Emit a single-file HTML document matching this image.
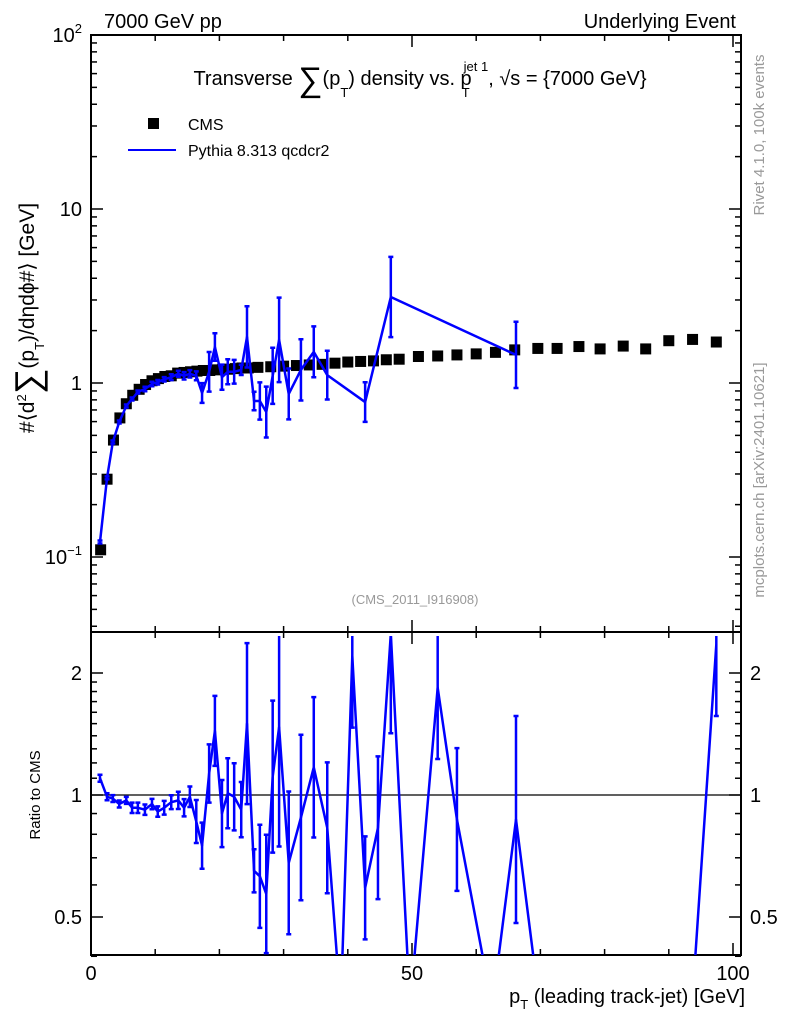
<!DOCTYPE html>
<html><head><meta charset="utf-8"><style>
html,body{margin:0;padding:0;background:#fff;overflow:hidden}
svg{font-family:"Liberation Sans",sans-serif;display:block}
</style></head><body>
<svg id="c" width="786" height="1024" viewBox="0 0 786 1024">
<defs>
<clipPath id="mclip"><rect x="91" y="35" width="650" height="597"/></clipPath>
<clipPath id="rclip"><rect x="91" y="636" width="650" height="319"/></clipPath>
</defs>
<g id="axes"></g>
<g id="mainMarks" clip-path="url(#mclip)"></g>
<g id="ratioMarks" clip-path="url(#rclip)"></g>
<text x="104" y="28" font-size="20">7000 GeV pp</text>
<text x="736" y="28" font-size="20" text-anchor="end">Underlying Event</text>
<text x="420" y="85" font-size="20" text-anchor="middle">Transverse <tspan font-size="34" dy="6">∑</tspan><tspan dy="-6">(p</tspan><tspan font-size="13" dy="12">T</tspan><tspan dy="-12">) density vs. p</tspan><tspan font-size="13" dy="12" dx="-10">T</tspan><tspan font-size="13" dy="-26" dx="-6">jet 1</tspan><tspan dy="14">, √s = {7000 GeV}</tspan></text>
<rect x="148" y="118" width="11" height="11" fill="#000"/>
<text x="188" y="130" font-size="16">CMS</text>
<line x1="128" y1="150" x2="176" y2="150" stroke="#0000ff" stroke-width="2"/>
<text x="188" y="156" font-size="16">Pythia 8.313 qcdcr2</text>
<text x="415" y="604" font-size="13" fill="#999" text-anchor="middle">(CMS_2011_I916908)</text>
<text transform="translate(34,318) rotate(-90)" font-size="21" text-anchor="middle">#⟨d<tspan font-size="13" dy="-8">2</tspan><tspan font-size="36" dy="14">∑</tspan><tspan dy="-6">(p</tspan><tspan font-size="13" dy="10">T</tspan><tspan dy="-10">)/dηdϕ#⟩ [GeV]</tspan></text>
<text transform="translate(40,795) rotate(-90)" font-size="15" text-anchor="middle">Ratio to CMS</text>
<text x="745" y="1003" font-size="20" text-anchor="end">p<tspan font-size="13" dy="6">T</tspan><tspan dy="-6"> (leading track-jet) [GeV]</tspan></text>
<text transform="translate(764,135) rotate(-90)" font-size="15" fill="#999" text-anchor="middle">Rivet 4.1.0,  100k events</text>
<text transform="translate(764,480) rotate(-90)" font-size="15" fill="#999" text-anchor="middle">mcplots.cern.ch [arXiv:2401.10621]</text>
</svg>
<script>
const cmsX=[1.5,2.5,3.5,4.5,5.5,6.5,7.5,8.5,9.5,10.5,11.5,12.5,13.5,14.5,15.5,16.5,17.5,18.5,19.5,20.5,21.5,22.5,23.5,24.5,26,28,30,32,34,36,38,40,42,44,46,48,51,54,57,60,63,66,69.6,72.6,76,79.3,82.9,86.4,90,93.7,97.4];
const cmsY=[0.11,0.28,0.47,0.63,0.76,0.85,0.92,0.98,1.03,1.06,1.09,1.1,1.14,1.15,1.16,1.17,1.18,1.18,1.19,1.2,1.2,1.21,1.22,1.22,1.23,1.24,1.25,1.26,1.27,1.28,1.3,1.32,1.33,1.34,1.36,1.37,1.42,1.43,1.45,1.47,1.5,1.55,1.58,1.58,1.62,1.57,1.63,1.57,1.75,1.78,1.72];
const pyX=[1.4,2.5,3.4,4.4,5.5,6.4,7.3,8.4,9.5,10.4,11.4,12.5,13.6,14.5,15.4,16.4,17.3,18.4,19.3,20.4,21.3,22.3,23.4,24.3,25.4,26.3,27.3,28.3,29.3,30.8,32.7,34.7,36.8,42.7,46.7,66.2];
const pyY=[0.122,0.285,0.458,0.597,0.738,0.809,0.888,0.924,0.987,1.01,1.05,1.08,1.13,1.10,1.13,1.10,0.876,1.16,1.61,1.08,1.16,1.16,1.19,1.84,0.788,0.788,0.681,1.10,1.77,0.865,1.19,1.51,1.11,0.777,3.12,1.45];
const pyErr=[1.02,1.02,1.02,1.02,1.02,1.02,1.02,1.03,1.03,1.03,1.03,1.04,1.04,1.05,1.05,1.06,1.14,1.30,1.20,1.18,1.18,1.17,1.07,1.50,1.13,1.28,1.40,1.45,1.75,1.40,1.50,1.40,1.38,1.30,1.70,1.55];
const rX=[1.4,2.5,3.4,4.4,5.5,6.4,7.3,8.4,9.5,10.4,11.4,12.5,13.6,14.5,15.4,16.4,17.3,18.4,19.3,20.4,21.3,22.3,23.4,24.3,25.4,26.3,27.3,28.3,29.3,30.8,32.7,34.7,36.8,38.9,40.7,42.7,44.7,46.7,49.7,54,57,62.5,66.2,69.9,79,93.6,97.4];
const rY=[1.10,0.99,0.98,0.95,0.97,0.93,0.93,0.92,0.95,0.91,0.93,0.96,0.97,0.93,0.99,0.86,0.75,1.13,1.44,0.90,1.01,0.99,0.92,1.50,0.65,0.63,0.57,1.11,1.47,0.68,0.88,1.17,0.83,0.3,2.2,0.59,0.83,2.5,0.3,1.84,0.87,0.3,0.87,0.3,0.3,0.3,2.35];
const rErr=[1.02,1.02,1.02,1.02,1.02,1.03,1.03,1.03,1.03,1.03,1.04,1.04,1.05,1.05,1.06,1.13,1.14,1.18,1.22,1.21,1.22,1.21,1.17,1.58,1.13,1.34,1.4,1.54,1.97,1.5,1.6,1.49,1.45,1,1.5,1.34,1.5,1.76,1,1.5,1.5,1,1.8,1,1,1,1.5];
const xTicksMajor=[0,50,100];
const mainYBase=["10","1","10","10"];
const mainYExp=["\u22121","","","2"];
const ratioYLabels=["0.5","1","2"];

const NS="http://www.w3.org/2000/svg";
const L=91,R=741,MT=35,MB=632,RT=636,RB=955;
const sx=v=>91+v*6.42;
const syM=v=>383-174*Math.log10(v);
const syR=v=>795-122*Math.log2(v);
function mk(parent,tag,attrs){const e=document.createElementNS(NS,tag);for(const k in attrs)e.setAttribute(k,attrs[k]);parent.appendChild(e);return e;}
const ax=document.getElementById('axes');
const mm=document.getElementById('mainMarks');
const rm=document.getElementById('ratioMarks');

let f1=mk(ax,'rect',{x:L,y:MT,width:R-L,height:MB-MT,fill:'none',stroke:'#000','stroke-width':2});


let f2=mk(ax,'rect',{x:L,y:MB,width:R-L,height:RB-MB,fill:'none',stroke:'#000','stroke-width':2});


for(let v=0;v<=100;v+=10){
  const maj=v%50===0, len=maj?12:6, x=sx(v);
  [[MT,1],[MB,-1],[MB,1],[RB,-1]].forEach(([y,d])=>{
    let t=mk(ax,'line',{x1:x,y1:y,x2:x,y2:y+d*len,stroke:'#000','stroke-width':1.5});
    
    
  });
}
xTicksMajor.forEach(v=>{
  let t=mk(ax,'text',{x:sx(v),y:980,'font-size':20,'text-anchor':'middle'});t.textContent=v;
  
  
});
for(let d=-2;d<=1;d++){for(let m=1;m<=9;m++){
  const v=m*Math.pow(10,d), y=syM(v); if(y<MT-0.5||y>MB)continue;
  const len=m===1?12:6;
  [[L,1],[R,-1]].forEach(([x,s])=>{
    let t=mk(ax,'line',{x1:x,y1:y,x2:x+s*len,y2:y,stroke:'#000','stroke-width':1.5});
    
    
  });
}}
[0.1,1,10,100].forEach((v,i)=>{
  const hasExp=mainYExp[i]!=="";
  const t=mk(ax,'text',{x:82,y:syM(v)+7,'font-size':20,'text-anchor':'end'});
  t.textContent=mainYBase[i];
  if(hasExp){const ts=mk(t,'tspan',{'font-size':13,dy:-9});ts.textContent=mainYExp[i];}
  
  
});
const rt=[0.4,0.5,0.6,0.7,0.8,0.9,1,1.1,1.2,1.3,1.4,1.5,1.6,1.7,1.8,1.9,2];
rt.forEach(v=>{
  const y=syR(v), maj=(v===0.5||v===1||v===2), len=maj?12:6;
  [[L,1],[R,-1]].forEach(([x,s])=>{
    let t=mk(ax,'line',{x1:x,y1:y,x2:x+s*len,y2:y,stroke:'#000','stroke-width':1.5});
    
    
  });
});
[0.5,1,2].forEach((v,i)=>{
  [[82,'end'],[750,'start']].forEach(([x,a])=>{
    const t=mk(ax,'text',{x:x,y:syR(v)+7,'font-size':20,'text-anchor':a});t.textContent=ratioYLabels[i];
    
    
  });
});
let ref=mk(ax,'line',{x1:L,y1:syR(1),x2:R,y2:syR(1),stroke:'#000','stroke-width':1.2});



cmsX.forEach((x,i)=>{
  let r=mk(mm,'rect',{x:sx(x)-5.5,y:syM(cmsY[i])-5.5,width:11,height:11,fill:'#000'});
  
  
});
function series(g,xs,ys,errs,sy,nm){
  const pl=mk(g,'polyline',{points:xs.map((x,i)=>sx(x)+','+sy(ys[i])).join(' '),fill:'none',stroke:'#0000ff','stroke-width':2.5,'stroke-linejoin':'round'});
  
  
  xs.forEach((x,i)=>{
    if(errs[i]<=1)return;
    const X=sx(x),y1=sy(ys[i]*errs[i]),y2=sy(ys[i]/errs[i]);
    const e=mk(g,'path',{d:`M${X},${y1}V${y2}M${X-2.5},${y1}h5M${X-2.5},${y2}h5`,stroke:'#0000ff','stroke-width':2.5,fill:'none'});
    
    
  });
}
series(mm,pyX,pyY,pyErr,syM,'pythia');
series(rm,rX,rY,rErr,syR,'ratio');
</script>
</body></html>
